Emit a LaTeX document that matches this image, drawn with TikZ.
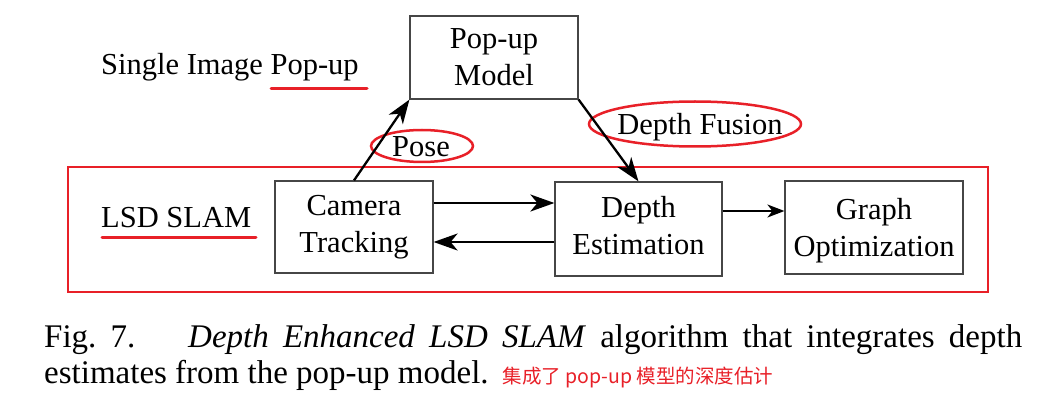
\documentclass[tikz,border=0pt]{standalone}
\usepackage{fontspec}
\setmainfont{Liberation Serif}
\newfontfamily\cjkfont{Noto Sans CJK SC}
\usetikzlibrary{arrows.meta,shapes.geometric}
\definecolor{markred}{RGB}{232,32,40}
\definecolor{boxgray}{RGB}{70,70,70}

\begin{document}
\begin{tikzpicture}[x=1pt,y=-1pt,
	block/.style={rectangle, draw=boxgray, line width=1.2pt, align=center, inner sep=0pt, font=\fontsize{30.5}{37}\selectfont},
	plaintext/.style={inner sep=0pt, anchor=base west, font=\fontsize{30.5}{37}\selectfont},
	flow/.style={-{Stealth[length=24pt,width=17pt,inset=7pt]}, line width=2.3pt},
	smallflow/.style={-{Stealth[length=17pt,width=13pt,inset=5pt]}, line width=1.7pt},
	ring/.style={ellipse, draw=markred, line width=2.5pt, inner sep=0pt},
	underline/.style={draw=markred, line width=3pt, line cap=round}]
	\useasboundingbox (0,0) rectangle (1043,414);
	\node[block, minimum width=168pt, minimum height=83pt](popup) at (494,57.5){Pop-up\\Model};
	\node[block, minimum width=158pt, minimum height=92pt](camera) at (354,227){Camera\\Tracking};
	\node[block, minimum width=167pt, minimum height=94pt](depth) at (638.5,229){Depth\\Estimation\vphantom{g}};
	\node[block, minimum width=178pt, minimum height=93pt](graph) at (874,227.5){\rule{0pt}{27pt}Graph\\Optimization};
	\node[plaintext](single) at (101,75){Single Image Pop-up};
	\node[plaintext](lsd) at (101,227){LSD SLAM};
	% red marks
	\draw[draw=markred, line width=2.2pt] (68,167) rectangle (988,292);
	\draw[underline] (271,89) -- (367,89);
	\draw[underline] (102,237) -- (256,237);
	\node[ring, minimum width=102pt, minimum height=32pt](posering) at (422,146){};
	\node[ring, minimum width=212pt, minimum height=45pt](fusionring) at (695,124){};
	\node[plaintext, anchor=base](pose) at (421,157){Pose};
	\node[plaintext, anchor=base](fusion) at (700,135){Depth Fusion};
	% arrows
	\draw[flow] (camera.north) -- (popup.south west);
	\draw[flow] (popup.south east) -- (depth.north);
	\draw[flow] ([yshift=24pt]camera.east) -- ([yshift=24pt]camera.east -| depth.west);
	\draw[flow] ([yshift=-15pt]camera.east -| depth.west) -- ([yshift=-15pt]camera.east);
	\draw[smallflow] ([yshift=18pt]depth.east) -- ([yshift=18pt]depth.east -| graph.west);
	% caption
	\node[inner sep=0pt, anchor=base west](caption) at (44,347){\parbox[t]{978pt}{\fontsize{33}{36.5}\selectfont
		Fig.~7.\hspace{1.6em}\textit{Depth Enhanced LSD SLAM} algorithm that integrates depth\linebreak
		estimates from the pop-up model.\hspace{14pt}{\cjkfont\fontsize{19.5}{36.5}\selectfont\color{markred}集成了 pop-up 模型的深度估计}}};
\end{tikzpicture}
\end{document}
